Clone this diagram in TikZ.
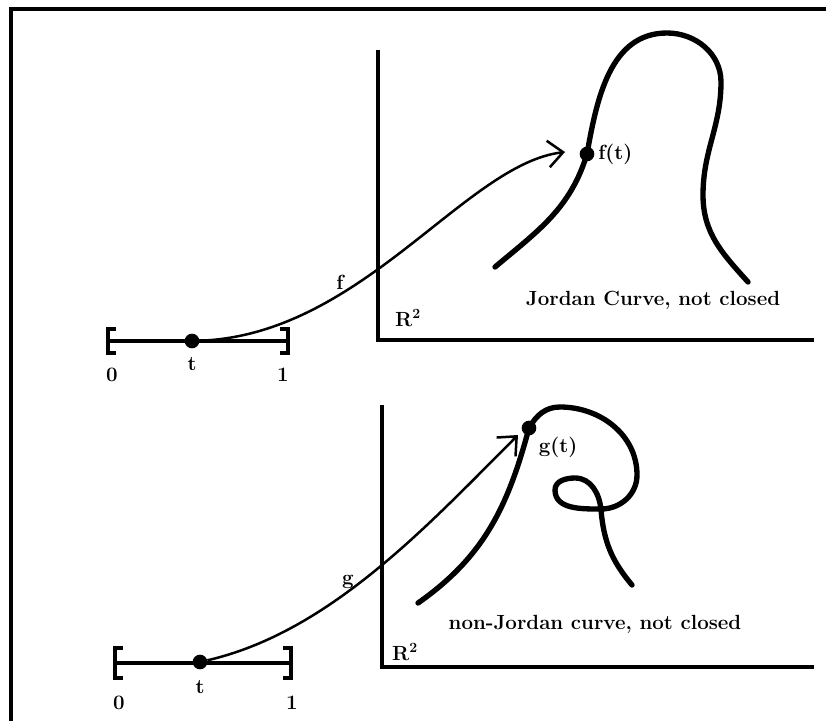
\documentclass[tikz,border=0pt]{standalone}
\usepackage{tikz}
\usetikzlibrary{positioning, arrows.meta, calc}

\begin{document}
\begin{tikzpicture}[x=0.3mm, y=-0.3mm]
        \tikzstyle{lbl} = [font=\fontsize{17.5}{20}\selectfont\bfseries, inner sep=1pt]
        \tikzstyle{dot} = [circle, fill=black, inner sep=0pt, minimum size=4.4mm]
        \tikzstyle{axis} = [line width=1mm]
        \tikzstyle{interval} = [line width=1mm]
        \tikzstyle{curve} = [line width=1.6mm, line cap=round]
        \tikzstyle{arrow} = [line width=0.75mm, -{Straight Barb[length=4.5mm, width=8mm, line width=0.75mm]}]

        \useasboundingbox (0,0) rectangle (826,721);
        \draw [line width=1mm] (11,721) -- (11,9) -- (826,9);

        % top: Jordan curve
        \coordinate (yaxis1) at (378,50);
        \coordinate (orig1) at (378,340);
        \coordinate (xaxis1) at (814,340);
        \draw [axis] (yaxis1) -- (orig1) -- (xaxis1);
        \node [lbl] (rr1) at (408,318) {R$^{\mathbf 2}$};

        \coordinate (zero1) at (108,341);
        \coordinate (one1) at (288,341);
        \draw [interval] (zero1) -- (one1);
        \draw [interval] ([shift={(8,-12)}]zero1) -| ([shift={(0,12)}]zero1) -- ++(8,0);
        \draw [interval] ([shift={(-8,-12)}]one1) -| ([shift={(0,12)}]one1) -- ++(-8,0);
        \node [dot] (t1) at (192,341) {};
        \node [lbl] (tl1) at (192,364) {t};
        \node [lbl] (zl1) at (112,375) {0};
        \node [lbl] (ol1) at (283,375) {1};

        \coordinate (ftc) at (587,154);
        \draw [curve] (495,267) to[out=40, in=253] (ftc) to[out=80, in=180] (667,33)
            to[out=0, in=90] (721,82) to[out=270, in=90] (703,195) to[out=270, in=132] (748,282);
        \node [dot] (ft) at (ftc) {};
        \node [lbl, right=2pt of ft] (ftl) {f(t)};
        \node [lbl] (jc) at (653,300) {Jordan Curve, not closed};

        \coordinate (fhead) at (565,152);
        \draw [arrow] (t1) .. controls +(170,-6) and +(-100,12) .. (fhead);
        \node [lbl] (fl) at (340,282) {f};

        % bottom: non-Jordan curve
        \coordinate (yaxis2) at (382,405);
        \coordinate (orig2) at (382,667);
        \coordinate (xaxis2) at (814,667);
        \draw [axis] (yaxis2) -- (orig2) -- (xaxis2);
        \node [lbl] (rr2) at (405,652) {R$^{\mathbf 2}$};

        \coordinate (zero2) at (115,663);
        \coordinate (one2) at (291,663);
        \draw [interval] (zero2) -- (one2);
        \draw [interval] ([shift={(8,-15)}]zero2) -| ([shift={(0,15)}]zero2) -- ++(8,0);
        \draw [interval] ([shift={(-8,-15)}]one2) -| ([shift={(0,15)}]one2) -- ++(-8,0);
        \node [dot] (t2) at (200,662) {};
        \node [lbl] (tl2) at (200,687) {t};
        \node [lbl] (zl2) at (119,703) {0};
        \node [lbl] (ol2) at (292,703) {1};

        \coordinate (gtc) at (529,428);
        \draw [curve] (418,603) to[out=35, in=255] (gtc) to[out=60, in=180] (560,407)
            to[out=0, in=90] (637,475) to[out=270, in=0] (601,509) to[out=180, in=270] (555,490)
            to[out=90, in=180] (575,478) to[out=0, in=95] (601,510) to[out=275, in=130] (632,585);
        \node [dot] (gt) at (gtc) {};
        \node [lbl] (gtl) at (558,447) {g(t)};
        \node [lbl] (njc) at (595,624) {non-Jordan curve, not closed};

        \coordinate (ghead) at (518,435);
        \draw [arrow] (t2) .. controls +(130,-30) and +(-90,90) .. (ghead);
        \node [lbl] (gl) at (348,582) {g};
\end{tikzpicture}
\end{document}
